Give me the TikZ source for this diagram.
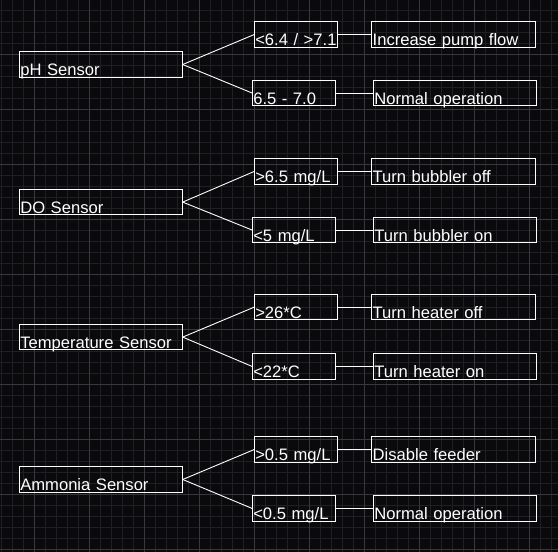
\documentclass[tikz,border=0pt]{standalone}
\usepackage{fontspec}
\setmainfont{Liberation Sans}
\definecolor{bgc}{RGB}{10,10,12}
\definecolor{minorc}{RGB}{32,32,36}
\definecolor{majorc}{RGB}{56,56,62}
\begin{document}
\begin{tikzpicture}[x=1pt,y=-1pt,
  every node/.style={font=\fontsize{16.6}{19}\selectfont},
  bx/.style={draw=white, line width=1pt, text=white, inner xsep=1pt, inner ysep=0pt,
    outer sep=0pt, text height=23.8pt, text depth=1.8pt, align=left, anchor=north west},
  sbox/.style={bx, text width=161.4pt},
  tbox/.style={bx, text width=81pt},
  abox/.style={bx, text width=161.6pt},
  wire/.style={draw=white, line width=0.9pt},
  minorgrid/.style={draw=minorc, line width=0.9pt},
  majorgrid/.style={draw=majorc, line width=0.9pt}]
\useasboundingbox (0,0) rectangle (558,552);
\fill[bgc] (0,0) rectangle (558,552);
% grid
\foreach \k in {0,...,50}{
  \pgfmathsetmacro{\gx}{1+11*\k}
  \draw[minorgrid] (\gx,0) -- (\gx,552);
  \pgfmathsetmacro{\gy}{-1+11*\k}
  \draw[minorgrid] (0,\gy) -- (558,\gy);
}
\foreach \k in {0,...,9}{
  \pgfmathsetmacro{\gx}{34+55*\k}
  \draw[majorgrid] (\gx,0) -- (\gx,552);
  \pgfmathsetmacro{\gy}{54+55*\k}
  \draw[majorgrid] (0,\gy) -- (558,\gy);
}
% pH group
\node[sbox] (ph) at (19.3,51.7) {pH Sensor};
\node[tbox] (ph1) at (254.3,21.7) {\mbox{<6.4 / >7.1}};
\node[tbox] (ph2) at (252.3,80.3) {6.5 - 7.0};
\node[abox] (pha1) at (371.7,21.7) {Increase pump flow};
\node[abox] (pha2) at (373.3,80.3) {Normal operation};
% DO group
\node[sbox] (do) at (19.3,189.3) {DO Sensor};
\node[tbox] (do1) at (254.3,158.6) {>6.5 mg/L};
\node[tbox] (do2) at (252.3,217.3) {<5 mg/L};
\node[abox] (doa1) at (371.7,158.6) {Turn bubbler off};
\node[abox] (doa2) at (373.3,217.3) {Turn bubbler on};
% Temperature group
\node[sbox] (te) at (19.3,324.3) {Temperature Sensor};
\node[tbox] (te1) at (254.3,294.3) {>26*C};
\node[tbox] (te2) at (252.3,353.7) {<22*C};
\node[abox] (tea1) at (371.7,294.3) {Turn heater off};
\node[abox] (tea2) at (373.3,353.7) {Turn heater on};
% Ammonia group
\node[sbox] (am) at (19.3,466.7) {Ammonia Sensor};
\node[tbox] (am1) at (254.3,436.7) {>0.5 mg/L};
\node[tbox] (am2) at (252.3,495.7) {<0.5 mg/L};
\node[abox] (ama1) at (371.7,436.7) {Disable feeder};
\node[abox] (ama2) at (373.3,495.7) {Normal operation};
% connectors
\foreach \g in {ph,do,te,am}{
  \draw[wire] (\g.east) -- (\g1.west);
  \draw[wire] (\g.east) -- (\g2.west);
  \draw[wire] (\g1.east) -- (\g a1.west);
  \draw[wire] (\g2.east) -- (\g a2.west);
}
\end{tikzpicture}
\end{document}
